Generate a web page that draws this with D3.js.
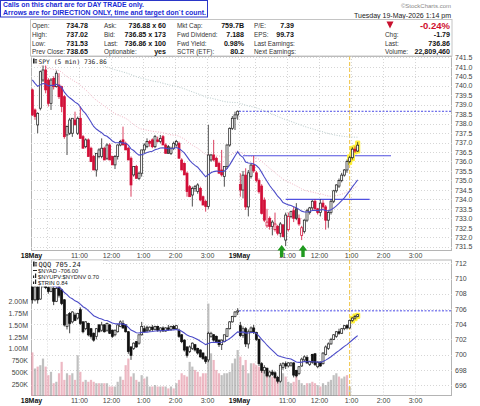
<!DOCTYPE html>
<html>
<head>
<meta charset="utf-8">
<script src="https://cdn.jsdelivr.net/npm/d3@7"></script>
<style>
  body { margin: 0; background: #fff; }
  svg text { font-family: "Liberation Sans", Arial, sans-serif; }
</style>
</head>
<body>
<script>
// SPY 5 min bars: 18 May (78 bars) then 19 May up to 1:10 pm (45 bars)
var spyOpen = [
  739.78, 738.72, 737.93, 738.81, 740.30, 740.83, 740.30, 739.07, 740.39, 739.95,
  740.04, 739.95, 739.42, 737.40, 737.49, 737.49, 738.19, 737.49, 738.28, 737.31,
  736.78, 737.14, 736.70, 736.26, 735.55, 736.26, 736.26, 736.70, 736.17, 736.87,
  736.26, 735.82, 736.26, 736.87, 737.14, 736.96, 736.70, 736.17, 735.29, 735.73,
  735.11, 735.38, 736.61, 736.78, 737.05, 737.14, 736.78, 737.14, 737.05, 737.31,
  736.87, 736.78, 736.43, 736.70, 736.87, 736.96, 736.08, 735.90, 735.38, 734.67,
  734.23, 734.58, 734.41, 734.58, 734.14, 733.88, 733.62, 736.08, 736.34, 736.17,
  735.90, 735.55, 735.20, 735.73, 736.87, 737.75, 738.28, 738.46,
  734.78, 734.49, 735.28, 733.60, 735.20, 735.81, 735.40, 735.00, 734.70, 733.96,
  732.60, 733.00, 732.56, 732.40, 732.56, 732.21, 732.65, 731.85, 732.40, 733.10,
  733.40, 733.50, 733.00, 732.10, 732.30, 732.90, 733.30, 733.55, 733.90, 733.50,
  733.30, 733.80, 733.60, 732.90, 733.30, 733.90, 734.45, 734.70, 735.00, 735.28,
  735.55, 736.00, 736.20, 736.65, 736.55
];
var spyHigh = [
  739.85, 738.80, 738.60, 740.80, 741.10, 741.10, 740.40, 740.40, 740.50, 740.80,
  740.66, 740.00, 739.50, 737.90, 738.30, 738.28, 738.63, 738.37, 738.90, 737.40,
  737.22, 737.22, 736.78, 736.34, 736.43, 736.70, 737.22, 736.78, 736.96, 736.96,
  736.30, 736.34, 736.90, 737.14, 737.84, 737.05, 736.78, 736.26, 735.73, 735.82,
  735.46, 736.61, 736.96, 737.22, 737.14, 737.22, 737.40, 737.31, 737.40, 737.40,
  736.96, 736.87, 736.78, 737.05, 737.14, 737.05, 736.17, 735.95, 735.46, 734.76,
  734.67, 734.76, 734.85, 734.67, 734.20, 733.97, 737.93, 736.40, 737.14, 736.26,
  735.99, 736.61, 735.73, 736.90, 737.80, 738.40, 738.63, 738.70,
  735.37, 735.50, 735.64, 735.55, 735.90, 736.30, 735.50, 735.10, 734.80, 734.10,
  733.50, 733.10, 732.90, 733.30, 732.65, 732.80, 732.70, 733.30, 733.30, 733.40,
  733.60, 733.80, 733.20, 732.60, 732.95, 733.50, 733.60, 733.96, 734.00, 733.55,
  734.00, 733.96, 733.70, 733.40, 734.00, 734.50, 734.80, 735.10, 735.40, 735.60,
  736.10, 736.30, 736.75, 736.80, 737.02
];
var spyLow = [
  738.40, 738.20, 737.49, 738.70, 740.20, 739.60, 738.90, 738.72, 739.80, 739.90,
  739.30, 738.60, 737.20, 736.34, 737.40, 737.30, 737.93, 737.40, 737.22, 736.70,
  736.70, 736.26, 735.99, 735.55, 735.20, 736.17, 736.17, 736.08, 736.08, 736.08,
  735.82, 735.60, 736.10, 736.80, 736.87, 736.61, 736.08, 734.14, 735.20, 735.11,
  735.02, 735.20, 736.43, 736.70, 736.78, 736.70, 736.70, 737.00, 736.96, 736.87,
  736.43, 736.43, 736.34, 736.60, 736.78, 736.17, 735.55, 735.29, 734.14, 734.14,
  733.62, 734.40, 734.30, 733.90, 733.70, 733.35, 733.50, 735.99, 736.00, 735.73,
  735.38, 735.20, 734.67, 735.60, 736.78, 737.66, 737.66, 738.20,
  734.14, 734.05, 733.44, 733.10, 735.10, 735.40, 734.90, 734.30, 733.20, 732.80,
  732.50, 732.40, 732.10, 732.30, 732.10, 732.00, 732.00, 731.53, 732.30, 733.00,
  732.80, 732.90, 732.60, 731.85, 732.20, 732.80, 733.20, 733.40, 733.40, 733.20,
  733.10, 733.50, 732.40, 732.50, 733.20, 733.80, 734.35, 734.60, 734.90, 735.20,
  735.40, 735.90, 736.10, 736.45, 736.50
];
var spyClose = [
  738.46, 738.37, 738.54, 740.74, 740.83, 739.78, 739.07, 740.30, 739.95, 740.66,
  739.42, 738.90, 737.31, 737.84, 738.19, 738.28, 737.93, 738.28, 737.22, 736.70,
  737.14, 736.26, 735.99, 735.55, 736.43, 736.61, 736.70, 736.08, 736.87, 736.08,
  735.82, 736.26, 736.87, 737.05, 736.87, 736.61, 736.08, 734.76, 735.73, 735.11,
  735.38, 736.61, 736.87, 737.05, 736.96, 736.78, 737.31, 737.05, 737.22, 736.87,
  736.43, 736.43, 736.70, 736.96, 737.05, 736.17, 735.55, 735.29, 734.41, 734.14,
  734.58, 734.67, 734.76, 733.97, 733.70, 733.62, 736.34, 736.34, 736.08, 735.73,
  735.38, 735.29, 735.73, 736.87, 737.75, 738.28, 738.46, 738.65,
  734.49, 735.28, 733.60, 735.40, 735.81, 735.50, 735.00, 734.40, 733.26, 732.90,
  732.80, 732.56, 732.80, 732.70, 732.21, 732.70, 732.03, 733.17, 733.10, 733.35,
  733.00, 733.00, 732.70, 732.50, 732.90, 733.40, 733.55, 733.90, 733.50, 733.30,
  733.80, 733.60, 732.90, 733.30, 733.90, 734.45, 734.76, 735.00, 735.28, 735.55,
  736.00, 736.20, 736.65, 736.55, 736.86
];

// QQQ 5 min bars, same sessions
var qqqOpen = [
  708.9, 707.2, 708.9, 707.3, 709.2, 709.5, 708.8, 708.3, 708.7, 707.0,
  708.9, 708.5, 707.2, 703.7, 705.4, 704.3, 705.2, 704.8, 705.9, 704.3,
  703.4, 704.1, 703.4, 702.8, 702.4, 703.9, 703.2, 703.9, 703.2, 703.9,
  703.2, 702.6, 703.0, 703.7, 704.1, 703.9, 703.0, 701.0, 700.8, 701.7,
  701.5, 702.6, 703.4, 703.6, 703.2, 703.6, 703.3, 703.7, 703.2, 703.5,
  703.1, 703.5, 703.3, 703.7, 703.4, 703.2, 702.6, 701.9, 701.0, 700.4,
  700.8, 701.3, 700.8, 700.6, 700.2, 699.7, 699.3, 702.4, 702.6, 702.4,
  701.9, 701.3, 701.7, 702.4, 703.4, 704.3, 705.0, 705.6,
  703.8, 702.5, 703.4, 701.4, 703.0, 703.5, 702.9, 702.0, 698.8, 697.9,
  698.2, 697.2, 697.7, 697.6, 697.0, 696.5, 698.3, 698.8, 698.5, 698.6,
  698.9, 697.9, 697.5, 698.5, 699.3, 699.6, 698.7, 700.0, 700.1, 698.4,
  699.0, 698.8, 700.0, 700.8, 701.4, 702.0, 702.4, 703.0, 702.8, 703.4,
  703.8, 703.5, 704.5, 704.8, 705.0
];
var qqqHigh = [
  709.3, 709.2, 709.4, 709.5, 709.8, 709.9, 709.0, 709.3, 709.0, 708.9,
  709.2, 708.6, 707.3, 705.3, 705.6, 705.7, 705.5, 705.5, 706.2, 704.4,
  704.4, 704.2, 703.5, 702.9, 703.5, 704.0, 704.3, 704.0, 704.2, 704.0,
  703.3, 703.3, 704.0, 704.5, 704.5, 704.0, 703.1, 701.1, 701.6, 701.8,
  702.6, 704.3, 703.8, 703.8, 703.7, 703.9, 703.8, 703.8, 703.6, 703.7,
  703.6, 703.9, 703.8, 703.9, 703.9, 703.4, 702.7, 702.0, 701.1, 701.2,
  701.6, 701.4, 700.9, 700.7, 700.3, 699.8, 703.0, 703.0, 702.7, 702.5,
  702.0, 702.0, 702.6, 703.5, 704.4, 705.1, 705.7, 706.1,
  704.3, 703.7, 703.6, 703.3, 703.7, 703.9, 703.0, 702.1, 699.0, 698.6,
  698.3, 697.9, 698.0, 697.8, 697.2, 698.9, 699.0, 699.1, 699.0, 699.0,
  699.0, 698.0, 698.5, 699.6, 699.9, 699.9, 699.2, 700.1, 700.2, 699.1,
  699.1, 700.3, 701.2, 701.6, 702.2, 702.7, 703.1, 703.4, 703.5, 703.9,
  704.0, 704.6, 704.9, 705.2, 705.3
];
var qqqLow = [
  706.7, 707.0, 706.7, 707.2, 708.8, 708.6, 708.0, 708.2, 706.5, 706.9,
  707.5, 706.5, 703.7, 703.3, 702.8, 704.1, 704.4, 704.6, 703.9, 702.8,
  703.2, 702.4, 702.1, 701.7, 702.0, 702.9, 703.0, 702.9, 703.0, 702.7,
  702.2, 702.4, 702.9, 703.6, 703.4, 702.9, 700.1, 699.3, 700.6, 700.9,
  701.3, 702.5, 702.9, 703.0, 703.0, 703.1, 703.2, 703.0, 702.9, 703.0,
  703.0, 703.2, 703.1, 703.3, 703.3, 702.2, 701.5, 700.4, 699.6, 700.2,
  700.6, 700.4, 700.0, 699.6, 699.3, 698.8, 699.0, 702.2, 701.7, 701.5,
  701.0, 700.6, 701.6, 702.3, 703.3, 704.2, 704.9, 705.2,
  702.3, 702.2, 701.0, 700.8, 702.8, 702.7, 701.8, 698.5, 697.6, 697.5,
  697.0, 697.0, 697.2, 696.8, 696.2, 696.3, 698.0, 698.1, 698.3, 698.4,
  697.0, 697.0, 697.3, 698.4, 699.1, 698.8, 698.5, 698.8, 698.5, 698.2,
  698.4, 698.7, 699.9, 700.6, 701.3, 701.9, 702.2, 702.6, 702.7, 703.2,
  703.3, 703.4, 704.3, 704.6, 704.9
];
var qqqClose = [
  707.2, 708.9, 707.2, 709.2, 709.5, 708.8, 708.3, 709.1, 707.0, 708.7,
  707.8, 706.7, 703.9, 705.2, 704.1, 705.6, 704.5, 705.4, 704.1, 703.0,
  704.3, 702.6, 702.4, 701.9, 703.4, 703.0, 703.9, 703.0, 704.1, 702.8,
  702.4, 703.2, 703.9, 704.3, 703.5, 703.0, 700.4, 699.9, 701.5, 701.0,
  702.6, 703.7, 703.0, 703.1, 703.6, 703.3, 703.7, 703.2, 703.5, 703.1,
  703.5, 703.3, 703.7, 703.4, 703.8, 702.4, 701.7, 700.6, 699.9, 701.0,
  701.5, 700.6, 700.2, 699.7, 699.5, 699.1, 702.8, 702.8, 701.9, 701.7,
  701.3, 701.9, 702.6, 703.4, 704.3, 705.0, 705.6, 705.75,
  702.5, 703.4, 701.4, 703.0, 703.5, 702.9, 702.0, 698.8, 697.9, 698.3,
  697.2, 697.7, 697.4, 697.0, 696.5, 698.6, 698.8, 698.5, 698.9, 698.9,
  697.3, 697.2, 698.4, 699.4, 699.7, 698.9, 699.1, 699.0, 698.7, 699.0,
  698.5, 700.2, 701.0, 701.4, 702.0, 702.6, 703.0, 702.8, 703.4, 703.8,
  703.5, 704.5, 704.8, 705.0, 705.24
];
// volume in millions of shares
var qqqVolume = [
  0.92, 0.58, 0.62, 0.65, 0.79, 0.62, 0.44, 0.51, 0.27, 0.30,
  0.48, 0.72, 0.34, 0.48, 0.44, 0.48, 0.34, 0.86, 0.51, 0.30,
  0.34, 0.30, 0.34, 0.30, 0.27, 0.27, 0.27, 0.27, 0.27, 0.20,
  0.20, 0.20, 0.30, 0.41, 0.34, 0.65, 0.79, 0.41, 0.48, 0.34,
  0.30, 0.44, 0.37, 0.41, 0.20, 0.20, 0.23, 0.20, 0.20, 0.20,
  0.20, 0.16, 0.20, 0.16, 0.27, 0.34, 0.48, 0.44, 0.41, 0.72,
  0.62, 0.55, 0.51, 0.41, 0.48, 0.48, 1.95, 0.90, 0.76, 0.55,
  0.48, 0.44, 0.48, 0.48, 0.51, 0.69, 0.79, 0.97,
  0.83, 0.65, 0.76, 0.48, 0.69, 0.69, 0.65, 0.62, 0.58, 0.55,
  0.51, 0.48, 0.41, 0.41, 0.37, 0.51, 0.48, 0.41, 0.30, 0.27,
  0.30, 0.41, 0.34, 0.27, 0.23, 0.27, 0.27, 0.30, 0.27, 0.23,
  0.20, 0.27, 0.23, 0.30, 0.34, 0.44, 0.48, 0.41, 0.37, 0.41,
  0.44, 0.20
];

// axes
var spyTicks = [731.5, 732.0, 732.5, 733.0, 733.5, 734.0, 734.5, 735.0, 735.5, 736.0, 736.5,
                737.0, 737.5, 738.0, 738.5, 739.0, 739.5, 740.0, 740.5, 741.0, 741.5];
var qqqTicks = [696, 698, 700, 702, 704, 706, 708, 710, 712];
var volTicks = [0.25, 0.5, 0.75, 1.0, 1.25, 1.5, 1.75, 2.0];
var volLabels = ["250K", "500K", "750K", "1.00M", "1.25M", "1.50M", "1.75M", "2.00M"];
var timeTickBars = [0, 18, 30, 42, 54, 66, 78, 96, 108, 120, 132, 144];
var timeTickLabels = ["18May", "11:00", "12:00", "1:00", "2:00", "3:00", "19May", "11:00", "12:00", "1:00", "2:00", "3:00"];
var gridBars = [6, 18, 30, 42, 54, 66, 78, 84, 96, 108, 120, 132, 144];

// annotations
var spyPrevClose = 738.65, qqqPrevClose = 705.75;
var trendLevels = [736.3, 734.0], trendFrom = [79.5, 95.5], trendTo = [135, 127];
var arrowBars = [94, 102];
var callBar = 119;
var spyHighlight = [119, 120, 121, 122], qqqHighlight = [120, 121, 122];
var spyEma20Seed = 740.5, spyEma50Seed = 741.4, spyEma200Seed = 742.0, qqqEma20Seed = 709.8;

// header table
var infoLabels = [["Open:", "High:", "Low:", "Prev Close:"], ["Ask:", "Bid:", "Last:", "Optionable:"],
                  ["Mkt Cap:", "Fwd Dividend:", "Fwd Yield:", "SCTR (ETF):"], ["P/E:", "EPS:", "Last Earnings:", "Next Earnings:"],
                  ["", "Chg:", "Last:", "Volume:"]];
var infoValues = [["734.78", "737.02", "731.53", "738.65"], ["736.88 x 60", "736.85 x 173", "736.86 x 100", "yes"],
                  ["759.7B", "7.188", "0.98%", "80.2"], ["7.39", "99.73", "", ""],
                  ["-0.24%", "-1.79", "736.86", "22,809,460"]];

var svg = d3.select("body").append("svg")
    .attr("width", 480).attr("height", 406).style("display", "block");
svg.append("rect").attr("width", 480).attr("height", 406).attr("fill", "#fff");

// layout
var pl = 31, pr = 452, upTop = 56, upBot = 251, loTop = 259.5, loBot = 396;
var x = d3.scaleLinear().domain([0, 156]).range([31, 447]);
var yUp = d3.scaleLinear().domain([731.5, 741.5]).range([246.7, 57.3]);
var yLo = d3.scaleLinear().domain([696, 712]).range([385, 263.3]);
var yVol = d3.scaleLinear().domain([0, 2]).range([396, 301.2]);

function ema(vals, n, seed) {
    var k = 2 / (n + 1), e = seed;
    return vals.map(function(v) { e += k * (v - e); return e; });
}

var defs = svg.append("defs");
defs.append("clipPath").attr("id", "clipUp").append("rect")
    .attr("x", pl).attr("y", upTop).attr("width", pr - pl).attr("height", upBot - upTop);
defs.append("clipPath").attr("id", "clipLo").append("rect")
    .attr("x", pl).attr("y", loTop).attr("width", pr - pl).attr("height", loBot - loTop);

// panels + grid
function panel(top, bot, y, ticks) {
    var g = svg.append("g");
    g.append("rect").attr("x", pl + 0.5).attr("y", top + 0.5).attr("width", pr - pl - 1).attr("height", bot - top - 1)
        .attr("fill", "#fff").attr("stroke", "#b4b4b4");
    g.selectAll(".hg").data(ticks).enter().append("line")
        .attr("x1", pl).attr("x2", pr).attr("y1", function(d) { return Math.round(y(d)) + 0.5; })
        .attr("y2", function(d) { return Math.round(y(d)) + 0.5; })
        .attr("stroke", "#d6d6d6").attr("stroke-dasharray", "1,2");
    g.selectAll(".vg").data(gridBars).enter().append("line")
        .attr("x1", function(d) { return Math.round(x(d)) + 0.5; }).attr("x2", function(d) { return Math.round(x(d)) + 0.5; })
        .attr("y1", top).attr("y2", bot)
        .attr("stroke", "#d6d6d6").attr("stroke-dasharray", "1,2");
}
panel(upTop, upBot, yUp, spyTicks);
panel(loTop, loBot, yLo, qqqTicks);

// volume bars (behind QQQ candles)
var gVol = svg.append("g").attr("clip-path", "url(#clipLo)");
gVol.selectAll("rect").data(qqqVolume).enter().append("rect")
    .attr("x", function(d, i) { return x(i + 0.5) - 1.1; })
    .attr("width", 2.2)
    .attr("y", function(d) { return yVol(d); })
    .attr("height", function(d) { return loBot - yVol(d); })
    .attr("fill", function(d, i) {
        var prev = i ? qqqClose[i - 1] : qqqOpen[i];
        return qqqClose[i] < prev ? "rgba(226,140,158,0.62)" : "rgba(150,150,150,0.6)";
    });

// call time marker
var xc = x(callBar + 0.5);
svg.append("line").attr("x1", xc).attr("x2", xc).attr("y1", upTop).attr("y2", loBot)
    .attr("stroke", "#f0c23c").attr("stroke-width", 1).attr("stroke-dasharray", "4,2");

// moving averages SPY
var lineUp = d3.line().x(function(d, i) { return x(i + 0.5); }).y(function(d) { return yUp(d); });
var gUp = svg.append("g").attr("clip-path", "url(#clipUp)");
gUp.append("path").attr("d", lineUp(ema(spyClose, 200, spyEma200Seed)))
    .attr("fill", "none").attr("stroke", "#b9cccc").attr("stroke-width", 1).attr("stroke-dasharray", "1,1.5");
gUp.append("path").attr("d", lineUp(ema(spyClose, 50, spyEma50Seed)))
    .attr("fill", "none").attr("stroke", "#f2b4c4").attr("stroke-width", 1).attr("stroke-dasharray", "1,1.5");

// prev close + trend lines
gUp.append("line").attr("x1", x(78)).attr("x2", pr).attr("y1", yUp(spyPrevClose)).attr("y2", yUp(spyPrevClose))
    .attr("stroke", "#4a4ae6").attr("stroke-width", 1).attr("stroke-dasharray", "2,1.5");
gUp.selectAll(".lvl").data(trendLevels).enter().append("line")
    .attr("x1", function(d, i) { return x(trendFrom[i]); }).attr("x2", function(d, i) { return x(trendTo[i]); })
    .attr("y1", function(d) { return yUp(d); }).attr("y2", function(d) { return yUp(d); })
    .attr("stroke", "#5050e0").attr("stroke-width", 1.1);

var gLo = svg.append("g").attr("clip-path", "url(#clipLo)");
gLo.append("line").attr("x1", x(78)).attr("x2", pr).attr("y1", yLo(qqqPrevClose)).attr("y2", yLo(qqqPrevClose))
    .attr("stroke", "#4a4ae6").attr("stroke-width", 1).attr("stroke-dasharray", "2,1.5");

// candles
function candles(g, O, H, L, C, y, downCol, upCol, filledUpCol, hl) {
    var bars = d3.range(C.length);
    function prev(i) { return i ? C[i - 1] : O[i]; }
    function col(i) { return C[i] < prev(i) ? downCol : upCol; }
    g.selectAll(".hl").data(hl).enter().append("rect")
        .attr("x", function(i) { return x(i + 0.5) - 2.6; }).attr("width", 5.2)
        .attr("y", function(i) { return y(H[i]) - 1.6; })
        .attr("height", function(i) { return y(L[i]) - y(H[i]) + 3.2; })
        .attr("rx", 1.2).attr("fill", "#fff03a");
    g.selectAll(".wick").data(bars).enter().append("line")
        .attr("x1", function(i) { return x(i + 0.5); }).attr("x2", function(i) { return x(i + 0.5); })
        .attr("y1", function(i) { return y(H[i]); }).attr("y2", function(i) { return y(L[i]); })
        .attr("stroke", col).attr("stroke-width", 0.8);
    g.selectAll(".body").data(bars).enter().append("rect")
        .attr("x", function(i) { return x(i + 0.5) - 1; }).attr("width", 2)
        .attr("y", function(i) { return y(Math.max(O[i], C[i])); })
        .attr("height", function(i) { return Math.max(0.8, Math.abs(y(O[i]) - y(C[i]))); })
        .attr("fill", function(i) {
            if (C[i] >= O[i]) return "#fff";
            return C[i] < prev(i) ? downCol : filledUpCol;
        })
        .attr("stroke", col).attr("stroke-width", 0.75);
}
candles(gUp, spyOpen, spyHigh, spyLow, spyClose, yUp, "#d20f38", "#222", "#666", spyHighlight);
candles(gLo, qqqOpen, qqqHigh, qqqLow, qqqClose, yLo, "#111", "#222", "#777", qqqHighlight);

gUp.append("path").attr("d", lineUp(ema(spyClose, 20, spyEma20Seed)))
    .attr("fill", "none").attr("stroke", "#4b4bc8").attr("stroke-width", 1.1);
var lineLo = d3.line().x(function(d, i) { return x(i + 0.5); }).y(function(d) { return yLo(d); });
gLo.append("path").attr("d", lineLo(ema(qqqClose, 20, qqqEma20Seed)))
    .attr("fill", "none").attr("stroke", "#4b4bc8").attr("stroke-width", 1.1);

// axes
function styleAxis(g) {
    g.select(".domain").remove();
    g.selectAll("text").attr("font-size", 7).attr("fill", "#444")
        .style("font-family", "'Liberation Sans', Arial, sans-serif");
}
svg.append("g").attr("transform", "translate(" + (pr + 1) + ",0)")
    .call(d3.axisRight(yUp).tickValues(spyTicks).tickFormat(d3.format(".1f")).tickSize(0).tickPadding(2))
    .call(styleAxis);
svg.append("g").attr("transform", "translate(" + (pr + 1) + ",0)")
    .call(d3.axisRight(yLo).tickValues(qqqTicks).tickFormat(d3.format("d")).tickSize(0).tickPadding(2))
    .call(styleAxis);
svg.append("g").attr("transform", "translate(" + (pl - 1) + ",0)")
    .call(d3.axisLeft(yVol).tickValues(volTicks).tickFormat(function(d, i) { return volLabels[i]; }).tickSize(0).tickPadding(2))
    .call(styleAxis);
[upBot, loBot].forEach(function(yy) {
    svg.append("g").attr("transform", "translate(0," + yy + ")")
        .call(d3.axisBottom(x).tickValues(timeTickBars).tickFormat(function(d, i) { return timeTickLabels[i]; })
            .tickSize(0).tickPadding(2))
        .call(styleAxis)
        .selectAll("text")
        .attr("font-weight", function(d, i) { return timeTickLabels[i].indexOf("May") > 0 ? "bold" : "normal"; })
        .attr("fill", function(d, i) { return timeTickLabels[i].indexOf("May") > 0 ? "#111" : "#444"; });
});

// direction arrows
svg.selectAll(".arrow").data(arrowBars).enter().append("path")
    .attr("d", function(b) {
        var cx = x(b);
        return "M" + cx + ",245 L" + (cx + 4.2) + ",250.5 L" + (cx + 1.7) + ",250.5 L" + (cx + 1.7) + ",257 L" +
            (cx - 1.7) + ",257 L" + (cx - 1.7) + ",250.5 L" + (cx - 4.2) + ",250.5 Z";
    })
    .attr("fill", "#1f9a1f");

// legends
svg.append("rect").attr("x", pl + 1).attr("y", upTop + 1).attr("width", 73).attr("height", 8.5).attr("fill", "#fff");
svg.append("rect").attr("x", 33).attr("y", 58.5).attr("width", 1.6).attr("height", 5).attr("fill", "#222");
svg.append("rect").attr("x", 35.2).attr("y", 59.5).attr("width", 1.6).attr("height", 3.5).attr("fill", "#fff").attr("stroke", "#222").attr("stroke-width", 0.5);
svg.append("text").attr("x", 38.5).attr("y", 64).attr("font-size", 6.3)
    .style("font-family", "'DejaVu Sans Mono', monospace").attr("fill", "#222").text("SPY (5 min) 736.86");

svg.append("rect").attr("x", pl + 1).attr("y", loTop + 1).attr("width", 71).attr("height", 26).attr("fill", "#fff");
svg.append("rect").attr("x", 33).attr("y", 261.5).attr("width", 1.6).attr("height", 5).attr("fill", "#222");
svg.append("rect").attr("x", 35.2).attr("y", 262.5).attr("width", 1.6).attr("height", 3.5).attr("fill", "#fff").attr("stroke", "#222").attr("stroke-width", 0.5);
svg.append("text").attr("x", 38.5).attr("y", 267).attr("font-size", 7)
    .style("font-family", "'DejaVu Sans Mono', monospace").attr("fill", "#222").text("QQQ 705.24");
svg.append("line").attr("x1", 33).attr("x2", 37).attr("y1", 270.5).attr("y2", 270.5).attr("stroke", "#222").attr("stroke-width", 1);
var subLeg = ["$NYAD -706.00", "$NYUPV:$NYDNV 0.70", "$TRIN 0.84"];
svg.selectAll(".subleg").data(subLeg).enter().append("text")
    .attr("x", 38).attr("y", function(d, i) { return 272.5 + i * 6; })
    .attr("font-size", 5.8).attr("fill", "#222").text(function(d) { return d; });
[276.5, 282.5].forEach(function(yy) {
    svg.append("rect").attr("x", 33).attr("y", yy - 1).attr("width", 1.2).attr("height", 2.5).attr("fill", "#222");
    svg.append("rect").attr("x", 35).attr("y", yy - 3).attr("width", 1.2).attr("height", 4.5).attr("fill", "#222");
});

// header
svg.append("text").attr("x", 451).attr("y", 8).attr("text-anchor", "end").attr("font-size", 6)
    .attr("fill", "#888").text("\u00a9StockCharts.com");
svg.append("text").attr("x", 451).attr("y", 18).attr("text-anchor", "end").attr("font-size", 7)
    .attr("fill", "#222").text("Tuesday 19-May-2026 1:14 pm");
svg.append("rect").attr("x", 30.5).attr("y", 19.5).attr("width", pr - 30.5).attr("height", upTop - 19.5)
    .attr("fill", "#fff").attr("stroke", "#c4c4c4");

var rowY = [28, 37, 45.5, 54];
var labelX = [32, 104, 177, 254, 385];
var valueX = [88, 166, 244, 294, 450];
infoLabels.forEach(function(col, c) {
    col.forEach(function(lab, r) {
        if (lab) svg.append("text").attr("x", labelX[c]).attr("y", rowY[r]).attr("font-size", 6.4)
            .attr("fill", "#333").text(lab);
        var v = infoValues[c][r];
        if (!v) return;
        var big = (c === 4 && r === 0);
        svg.append("text").attr("x", valueX[c]).attr("y", rowY[r] + (big ? 0.5 : 0)).attr("text-anchor", "end")
            .attr("font-size", big ? 9.5 : 7.1).attr("font-weight", "bold")
            .attr("fill", big ? "#d0102f" : "#111").text(v);
    });
});
svg.append("path").attr("d", "M386.5,21.5 L393.5,21.5 L390,28.5 Z").attr("fill", "#c8102e");

// notice box
svg.append("rect").attr("x", 0.5).attr("y", 0.5).attr("width", 207).attr("height", 16.5)
    .attr("fill", "#fff").attr("stroke", "#2a36c8").attr("stroke-width", 1);
svg.append("text").attr("x", 3).attr("y", 7.3).attr("font-size", 6.6).attr("font-weight", "bold")
    .attr("fill", "#1a2bd6").attr("textLength", 141).attr("lengthAdjust", "spacingAndGlyphs")
    .text("Calls on this chart are for DAY TRADE only.");
svg.append("text").attr("x", 3).attr("y", 15).attr("font-size", 6.6).attr("font-weight", "bold")
    .attr("fill", "#1a2bd6").attr("textLength", 203).attr("lengthAdjust", "spacingAndGlyphs")
    .text("Arrows are for DIRECTION ONLY, time and target don`t count.");
</script>
</body>
</html>
